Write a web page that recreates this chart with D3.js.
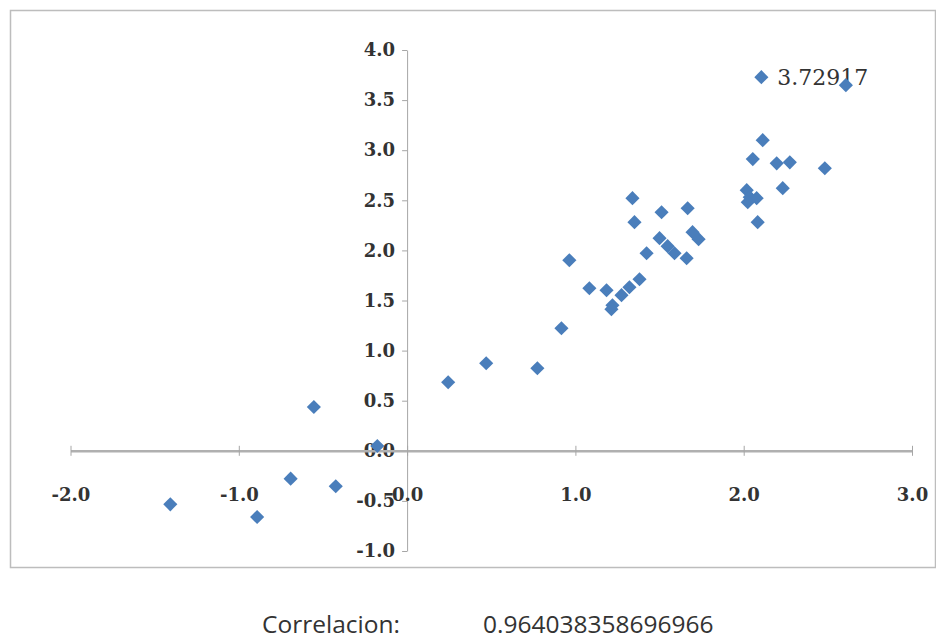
<!DOCTYPE html>
<html>
<head>
<meta charset="utf-8">
<script src="https://cdn.jsdelivr.net/npm/d3@7"></script>
<style>
    body { margin: 0; background: #fff; }
    #chart { width: 936px; height: 641px; }
</style>
</head>
<body>
<div id="chart"></div>
<script>
const width = 936
const height = 641

// x and y values
const xValues = [2.105, 2.607, 2.113, 2.054, 2.196, 2.274, 2.482, 2.232, 2.018, 2.036,
    2.077, 2.024, 2.083, 1.339, 1.351, 1.512, 1.667, 1.696, 1.732, 1.500,
    1.548, 1.589, 1.661, 1.423, 0.964, 1.083, 1.185, 1.381, 1.321, 1.274,
    1.220, 1.214, 0.917, 0.470, 0.774, 0.244, -0.554, -0.177, -0.692, -0.424,
    -1.407, -0.891]
const yValues = [3.72917, 3.649, 3.100, 2.911, 2.869, 2.879, 2.820, 2.621, 2.601, 2.531,
    2.521, 2.481, 2.282, 2.521, 2.282, 2.381, 2.421, 2.182, 2.112, 2.122,
    2.042, 1.972, 1.922, 1.972, 1.902, 1.622, 1.602, 1.712, 1.632, 1.553,
    1.453, 1.413, 1.223, 0.874, 0.824, 0.684, 0.437, 0.048, -0.278, -0.354,
    -0.534, -0.661]

const xTicks = [-2, -1, 0, 1, 2, 3]
const yTicks = [-1, -0.5, 0, 0.5, 1, 1.5, 2, 2.5, 3, 3.5, 4]
const labelIndex = 0
const corrLabel = "Correlacion:"
const corrValue = "0.964038358696966"

const svg = d3.select("#chart").append("svg").attr("width", width).attr("height", height)

// chart frame
svg.append("rect")
    .attr("x", 10.5).attr("y", 10.5)
    .attr("width", 925).attr("height", 557)
    .attr("fill", "#fff")
    .attr("stroke", "#bdbdbd")
    .attr("stroke-width", 1.5)

const x = d3.scaleLinear().domain([-2, 3]).range([70.5, 912])
const y = d3.scaleLinear().domain([-1, 4]).range([551, 50])

const fmt = d => d.toFixed(1)

// y axis through x = 0
const yAxis = svg.append("g")
    .attr("transform", `translate(${x(0)},0)`)
    .call(d3.axisLeft(y).tickValues(yTicks).tickFormat(fmt).tickSize(5).tickSizeOuter(0).tickPadding(7))
yAxis.select(".domain").attr("stroke", "#a6a6a6")
yAxis.selectAll(".tick line").attr("stroke", "#a6a6a6")
yAxis.selectAll("text")
    .attr("font-family", "DejaVu Serif")
    .attr("font-weight", "bold")
    .attr("font-size", 18)
    .attr("fill", "#333")

// x axis through y = 0
const xAxis = svg.append("g")
    .attr("transform", `translate(0,${y(0)})`)
    .call(d3.axisBottom(x).tickValues(xTicks).tickFormat(fmt).tickSize(5).tickSizeOuter(0))
xAxis.select(".domain").attr("stroke", "#b0b0b0").attr("stroke-width", 2.5)
xAxis.selectAll(".tick line").attr("stroke", "#a6a6a6").attr("y1", -5)
xAxis.selectAll("text")
    .attr("y", 37)
    .attr("font-family", "DejaVu Serif")
    .attr("font-weight", "bold")
    .attr("font-size", 18)
    .attr("fill", "#333")

// data label for the top point
svg.append("text")
    .attr("x", x(xValues[labelIndex]) + 16)
    .attr("y", y(yValues[labelIndex]))
    .attr("dy", "0.36em")
    .attr("font-family", "DejaVu Serif")
    .attr("font-size", 22)
    .attr("fill", "#333")
    .text(yValues[labelIndex])

const diamond = d3.symbol(d3.symbolSquare, 100)

svg.append("g")
    .selectAll("path")
    .data(xValues.map((d, i) => [d, yValues[i]]))
    .join("path")
    .attr("d", diamond)
    .attr("transform", d => `translate(${x(d[0])},${y(d[1])}) rotate(45)`)
    .attr("fill", "#4a7ebb")

// correlation note under the chart
svg.append("text")
    .attr("x", 262).attr("y", 633)
    .attr("font-family", "Open Sans")
    .attr("font-size", 24.5)
    .attr("fill", "#333")
    .text(corrLabel)

svg.append("text")
    .attr("x", 483).attr("y", 633)
    .attr("font-family", "Open Sans")
    .attr("font-size", 24.5)
    .attr("fill", "#333")
    .text(corrValue)
</script>
</body>
</html>
